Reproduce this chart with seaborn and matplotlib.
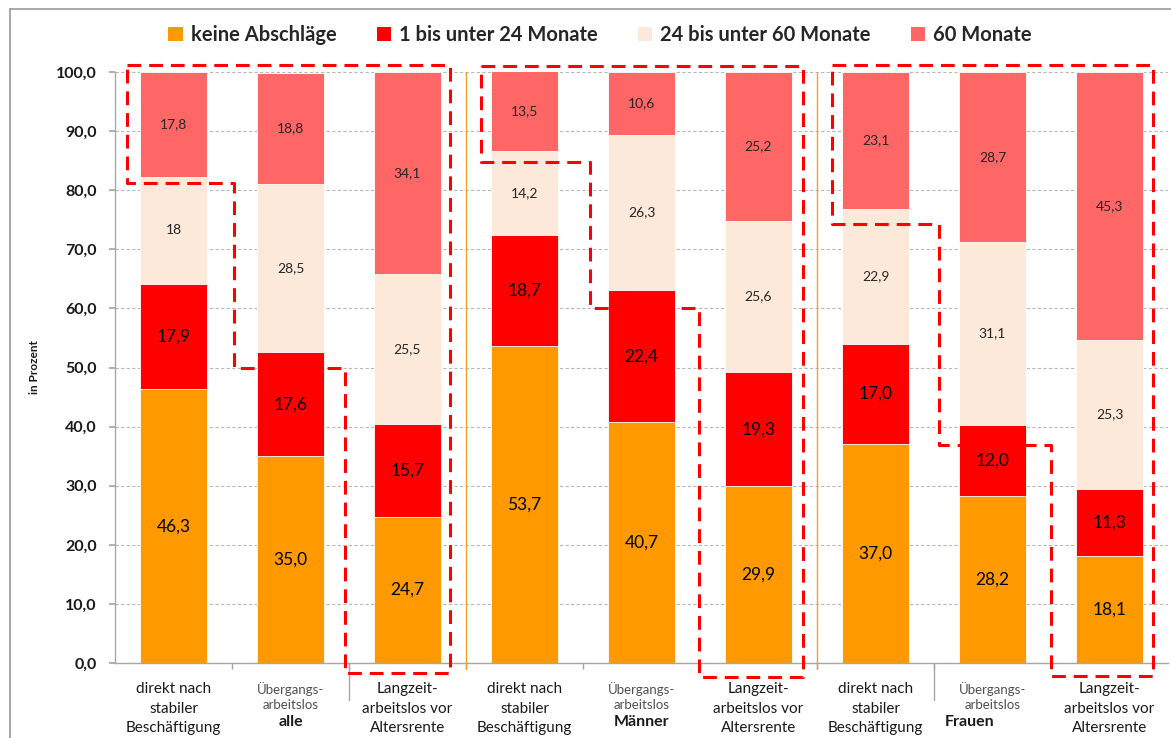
import numpy as np
import pandas as pd
import matplotlib
matplotlib.use("Agg")
import matplotlib.pyplot as plt
import seaborn as sns
from matplotlib.lines import Line2D
from matplotlib.patches import Patch

# ---------------- data ----------------
groups = ["alle", "Männer", "Frauen"]
paths = ["direkt nach\nstabiler\nBeschäftigung",
         "Übergangs-\narbeitslos",
         "Langzeit-\narbeitslos vor\nAltersrente"]
series = ["keine Abschläge", "1 bis unter 24 Monate",
          "24 bis unter 60 Monate", "60 Monate"]

keine_abschlaege = [46.3, 35.0, 24.7, 53.7, 40.7, 29.9, 37.0, 28.2, 18.1]
m_1_24 = [17.9, 17.6, 15.7, 18.7, 22.4, 19.3, 17.0, 12.0, 11.3]
m_24_60 = [18, 28.5, 25.5, 14.2, 26.3, 25.6, 22.9, 31.1, 25.3]
m_60 = [17.8, 18.8, 34.1, 13.5, 10.6, 25.2, 23.1, 28.7, 45.3]
label_override = {(2, 0): "18"}   # shown without decimal in the original

yticks = [0, 10, 20, 30, 40, 50, 60, 70, 80, 90, 100]
colors = ["#FF9900", "#FF0000", "#FDE9D9", "#FF6666"]

# dashed highlight shapes (annotation), in (bar position, percent) units
highlights = [
    [(-0.40, 101.2), (2.36, 101.2), (2.36, -1.7), (1.47, -1.7), (1.47, 49.9),
     (0.52, 49.9), (0.52, 81.2), (-0.40, 81.2), (-0.40, 101.2)],
    [(2.63, 101.0), (5.38, 101.0), (5.38, -2.3), (4.49, -2.3), (4.49, 60.0),
     (3.56, 60.0), (3.56, 84.8), (2.63, 84.8), (2.63, 101.0)],
    [(5.63, 101.2), (8.37, 101.2), (8.37, -2.2), (7.50, -2.2), (7.50, 36.9),
     (6.54, 36.9), (6.54, 74.3), (5.63, 74.3), (5.63, 101.2)],
]

# ---------------- setup ----------------
sns.set_theme(style="white")
plt.rcParams["font.family"] = ["Lato", "DejaVu Sans"]

W, H = 1171, 738
fig = plt.figure(figsize=(W / 100, H / 100), dpi=100)
ax = fig.add_axes([115 / W, 1 - 663 / H, 1053 / W, (663 - 72) / H])

keys = [f"{g}|{p}" for g in groups for p in range(3)]
layers = [keine_abschlaege, m_1_24, m_24_60, m_60]
cum = np.cumsum(np.array(layers, dtype=float), axis=0)
df = pd.DataFrame({"key": keys})
for i in range(4):
    df[f"cum{i}"] = cum[i]

# stacked bars: draw cumulative totals from top layer down
for i in reversed(range(4)):
    sns.barplot(data=df, x="key", y=f"cum{i}", order=keys, color=colors[i],
                saturation=1, width=0.565, errorbar=None,
                edgecolor="white", linewidth=0.6, ax=ax)

ax.set_xlim(-0.5, 8.5)
ax.set_ylim(0, 100)

# grid
ax.set_axisbelow(True)
ax.yaxis.grid(True, color="#b8b8b8", linestyle=(0, (3, 2)), linewidth=0.8)
ax.xaxis.grid(False)

# segment labels
for i in range(4):
    for j in range(9):
        v = layers[i][j]
        base = cum[i][j] - v
        txt = label_override.get((i, j), f"{v:.1f}".replace(".", ","))
        big = i < 2
        ax.text(j, base + v / 2, txt, ha="center", va="center",
                fontsize=12.5 if big else 10,
                color="#000000" if big else "#262626")

# spines
for s in ["top", "right"]:
    ax.spines[s].set_visible(False)
for s in ["left", "bottom"]:
    ax.spines[s].set_color("#a6a6a6")
    ax.spines[s].set_linewidth(1)

# y axis
ax.set_yticks(yticks)
ax.set_yticklabels([f"{v:.1f}".replace(".", ",") for v in yticks],
                   fontsize=11.5, fontweight="bold", color="#1a1a1a")
ax.tick_params(axis="y", length=4, color="#a6a6a6", pad=9, left=True)
ax.set_ylabel("in Prozent", fontsize=8.5, fontweight="bold", color="#1a1a1a")
ax.yaxis.set_label_coords((40 - 115) / 1053, 0.5)

# x axis
ax.set_xlabel("")
ax.set_xticks(range(9))
ax.set_xticklabels(paths * 3, fontsize=11, color="#1a1a1a", linespacing=1.5)
ax.tick_params(axis="x", length=0, pad=14)
for j, lab in enumerate(ax.get_xticklabels()):
    if j % 3 == 1:
        lab.set_fontsize(9.5)
        lab.set_color("#505050")
        lab.set_linespacing(1.25)
ax.set_xticks([k + 0.5 for k in range(8)], minor=True)
ax.tick_params(axis="x", which="minor", length=4, color="#a6a6a6",
               bottom=True, width=1)
for b in [1.5, 6.5]:
    ax.plot([b, b], [0, -6.3], color="#a6a6a6", lw=1, clip_on=False)

# group labels
group_offsets = [0, 0, -0.2]
for g, name in enumerate(groups):
    ax.text(3 * g + 1 + group_offsets[g], -10.0, name, ha="center", va="center",
            fontsize=11.5, fontweight="bold", color="#1a1a1a")

# orange separators between groups
for b in [2.5, 5.5]:
    ax.plot([b, b], [-1, 100], color="#F5A020", lw=1, clip_on=False, zorder=1)

# dashed highlight shapes
for poly in highlights:
    xs, ys = zip(*poly)
    ax.plot(xs, ys, color="#FF0000", lw=2.2, linestyle=(0, (4.5, 2.6)),
            clip_on=False, zorder=5)

# legend
handles = [Patch(facecolor=c, edgecolor="none") for c in colors]
fig.legend(handles, series, loc="center", bbox_to_anchor=(600 / W, 1 - 35 / H),
           ncol=4, frameon=False, prop=dict(weight="bold", size=14.5),
           handlelength=0.7, handleheight=0.7, handletextpad=0.4,
           columnspacing=2.0)

# chart frame (top / left edges)
fig.add_artist(Line2D([10 / W, 10 / W], [0, 1 - 9 / H], color="#9a9a9a",
                      lw=1.2, transform=fig.transFigure))
fig.add_artist(Line2D([10 / W, 1], [1 - 9 / H, 1 - 9 / H], color="#9a9a9a",
                      lw=1.2, transform=fig.transFigure))

fig.savefig("out.png", dpi=100)
